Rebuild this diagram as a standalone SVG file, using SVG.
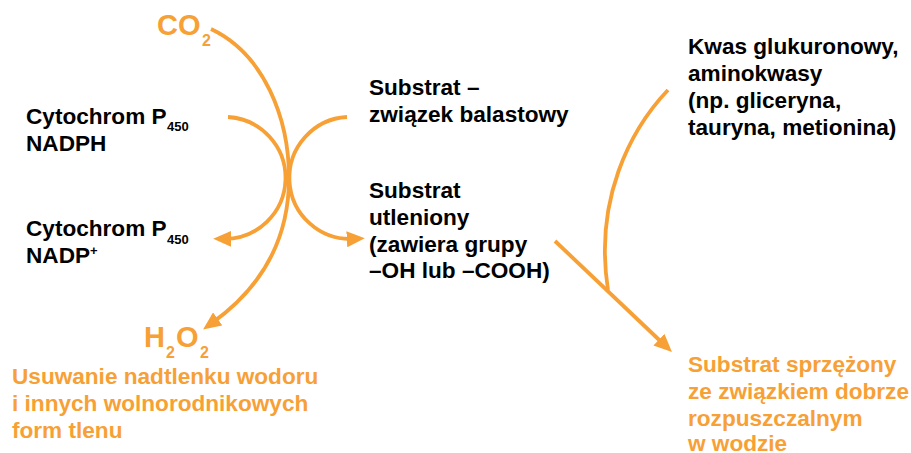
<svg xmlns="http://www.w3.org/2000/svg" width="911" height="453" viewBox="0 0 911 453">
<defs>
<style>
text{font-family:"Liberation Sans",Arial,sans-serif;font-weight:bold;font-size:22.6px}
.k{fill:#000}
.o{fill:#F7A035}
.big{font-size:29px}
.sub{font-size:16px}
.sm{font-size:13px}
.c{fill:none;stroke:#F7A035;stroke-width:3.8}
</style>
<marker id="ah" markerUnits="userSpaceOnUse" markerWidth="18" markerHeight="16" refX="7" refY="8" orient="auto" viewBox="0 0 18 16">
<path d="M0,0 L18,8 L0,16 z" fill="#F7A035"/>
</marker>
</defs>
<rect width="911" height="453" fill="#fff"/>
<g id="connectors">
<path class="c" d="M211,29 C264,54 289,118 289,178 C289,235 265,285 212,323" marker-end="url(#ah)"/>
<path class="c" d="M228,117 A61,61 0 0 1 224.2,238.9" marker-end="url(#ah)"/>
<path class="c" d="M347,117 A61,61 0 0 0 353.8,238.9" marker-end="url(#ah)"/>
<path class="c" d="M555,241 L664,344.5" marker-end="url(#ah)"/>
<path class="c" d="M668,90 C630,130 594,200 608,290"/>
</g>
<g id="co2">
<text class="o big" x="157" y="35">CO</text>
<text class="o sub" x="202" y="46">2</text>
</g>
<g id="cyt-nadph">
<text class="k" x="26" y="124">Cytochrom P<tspan class="sm" x="167" y="131">450</tspan></text>
<text class="k" x="26" y="151">NADPH</text>
</g>
<g id="cyt-nadp">
<text class="k" x="26" y="236">Cytochrom P<tspan class="sm" x="167" y="244">450</tspan></text>
<text class="k" x="26" y="263">NADP<tspan font-size="13" dy="-8">+</tspan></text>
</g>
<g id="h2o2">
<text class="o big" x="144" y="347">H</text>
<text class="o sub" x="166" y="358">2</text>
<text class="o big" x="176" y="347">O</text>
<text class="o sub" x="200" y="358">2</text>
<text class="o" x="12" y="384">Usuwanie nadtlenku wodoru</text>
<text class="o" x="12" y="411">i innych wolnorodnikowych</text>
<text class="o" x="12" y="438">form tlenu</text>
</g>
<g id="substrat">
<text class="k" x="369" y="95">Substrat –</text>
<text class="k" x="369" y="122">związek balastowy</text>
</g>
<g id="substrat-utleniony">
<text class="k" x="369" y="198">Substrat</text>
<text class="k" x="369" y="225">utleniony</text>
<text class="k" x="369" y="252">(zawiera grupy</text>
<text class="k" x="369" y="278">–OH lub –COOH)</text>
</g>
<g id="kwas">
<text class="k" x="688" y="54">Kwas glukuronowy,</text>
<text class="k" x="688" y="81">aminokwasy</text>
<text class="k" x="688" y="108">(np. gliceryna,</text>
<text class="k" x="688" y="135">tauryna, metionina)</text>
</g>
<g id="sprzezony">
<text class="o" x="688" y="372">Substrat sprzężony</text>
<text class="o" x="688" y="399">ze związkiem dobrze</text>
<text class="o" x="688" y="426">rozpuszczalnym</text>
<text class="o" x="688" y="451">w wodzie</text>
</g>
</svg>
